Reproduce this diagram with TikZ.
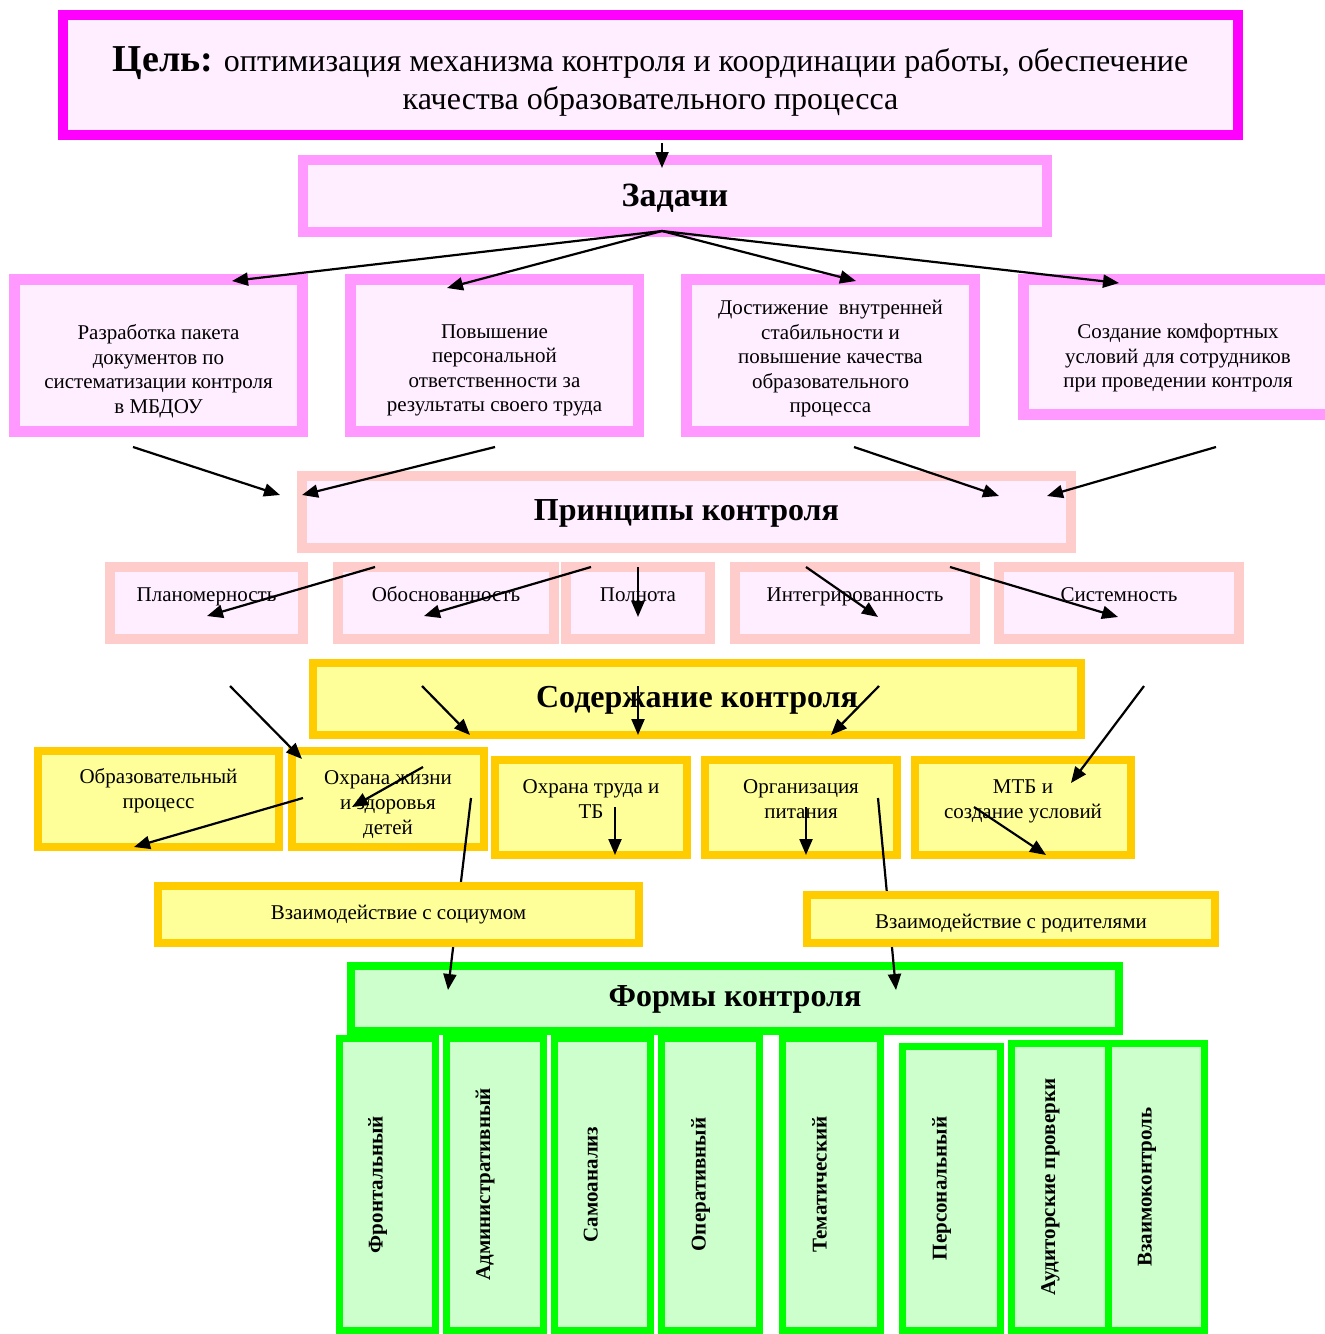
\documentclass[tikz,border=0pt]{standalone}
\usepackage{fontspec}
\setmainfont{Liberation Serif}
\usetikzlibrary{arrows.meta}

\definecolor{goalpink}{HTML}{FF00FF}
\definecolor{taskpink}{HTML}{FF99FF}
\definecolor{princpink}{HTML}{FFCCCC}
\definecolor{boxpink}{HTML}{FFEEFF}
\definecolor{contgold}{HTML}{FFCC00}
\definecolor{contyellow}{HTML}{FFFF99}
\definecolor{formgreen}{HTML}{00FF00}
\definecolor{formlight}{HTML}{CCFFCC}

% invisible struts to move the text inside a box
\newcommand{\padtop}[1]{\rule{0pt}{#1}}
\newcommand{\padbot}[1]{\rule[-#1]{0pt}{0pt}}

\begin{document}
\begin{tikzpicture}[x=1pt, y=-1pt,
  arr/.style={line width=2.2pt, -{Triangle[length=16pt, width=13pt]}},
  goalbox/.style={draw=goalpink, fill=boxpink, line width=10pt, inner sep=0pt, align=center, font=\fontsize{32}{38}\selectfont},
  headbox/.style={fill=boxpink, line width=10pt, inner sep=0pt, text height=22pt, text depth=6pt, font=\bfseries\fontsize{32}{38}\selectfont},
  taskbox/.style={draw=taskpink, fill=boxpink, line width=11pt, inner sep=0pt, align=center, font=\fontsize{21}{24.5}\selectfont},
  princbox/.style={draw=princpink, fill=boxpink, line width=10pt, inner sep=0pt, minimum height=72pt, text height=10pt, text depth=14pt, font=\fontsize{21}{24.5}\selectfont},
  contbox/.style={draw=contgold, fill=contyellow, line width=8pt, inner sep=0pt, align=center, font=\fontsize{21}{25}\selectfont},
  formbox/.style={draw=formgreen, fill=formlight, line width=7pt, inner sep=0pt, rotate=90, text height=15pt, text depth=25pt, font=\bfseries\fontsize{21}{24}\selectfont}]

    \path[use as bounding box, fill=white] (0,0) rectangle (1325,1334);

    % Goal
    \node[goalbox, minimum width=1175pt, minimum height=120pt] (goal) at (650.5,75)
        {\padtop{37.5pt}\textbf{\fontsize{38}{38}\selectfont Цель:} оптимизация механизма контроля и координации работы, обеспечение\\качества образовательного процесса};

    % Tasks
    \node[headbox, draw=taskpink, minimum width=744pt, minimum height=72pt, text height=24pt, text depth=4pt, font=\bfseries\fontsize{34}{38}\selectfont] (tasks) at (675,196) {Задачи};

    \node[taskbox, minimum width=288pt, minimum height=152pt] (t1) at (158.5,355.5) {\padtop{46.5pt}Разработка пакета\\документов по\\систематизации контроля\\в МБДОУ};
    \node[taskbox, minimum width=288pt, minimum height=152pt] (t2) at (494.5,355.5) {\padtop{44pt}Повышение\\персональной\\ответственности за\\результаты своего труда};
    \node[taskbox, minimum width=288pt, minimum height=152pt] (t3) at (830.5,355.5) {\padtop{20.5pt}Достижение \ внутренней\\стабильности и\\повышение качества\\образовательного\\процесса};
    \node[taskbox, minimum width=309pt, minimum height=135pt] (t4) at (1178,347) {\padtop{36.5pt}Создание комфортных\\условий для сотрудников\\при проведении контроля};

    % Principles
    \node[headbox, draw=princpink, minimum width=769pt, minimum height=72pt] (princ) at (686.5,512) {Принципы контроля};

    \node[princbox, minimum width=193pt] (p1) at (206.5,603) {Планомерность};
    \node[princbox, minimum width=216pt] (p2) at (446,603) {Обоснованность};
    \node[princbox, minimum width=144pt] (p3) at (638,603) {Полнота};
    \node[princbox, minimum width=240pt] (p4) at (855,603) {Интегрированность};
    \node[princbox, minimum width=240pt] (p5) at (1119,603) {Системность};

    % Content of control
    \node[headbox, draw=contgold, fill=contyellow, line width=8pt, minimum width=768pt, minimum height=72pt] (cont) at (697,699) {Содержание контроля};

    \node[contbox, minimum width=241pt, minimum height=96pt] (c1) at (158.5,799) {Образовательный\\процесс\padbot{20.6pt}};
    \node[contbox, minimum width=192pt, minimum height=96pt] (c2) at (388,799) {\padtop{26pt}Охрана жизни\\и здоровья\\детей};
    \node[contbox, minimum width=192pt, minimum height=95pt] (c3) at (591,807.5) {Охрана труда и\\ТБ\padbot{16pt}};
    \node[contbox, minimum width=192pt, minimum height=95pt] (c4) at (801,807.5) {Организация\\питания\padbot{16pt}};
    \node[contbox, minimum width=216pt, minimum height=95pt] (c5) at (1023,807.5) {МТБ и\\создание условий\padbot{16.6pt}};

    % Forms of control
    \node[headbox, draw=formgreen, fill=formlight, line width=8pt, minimum width=768pt, minimum height=65pt] (forms) at (735,998.5) {Формы контроля};

    \node[formbox, minimum width=292pt, minimum height=96pt] (f1) at (387.5,1184.5) {Фронтальный};
    \node[formbox, minimum width=292pt, minimum height=97pt] (f2) at (495,1184.5) {Административный};
    \node[formbox, minimum width=292pt, minimum height=96pt] (f3) at (602.5,1184.5) {Самоанализ};
    \node[formbox, minimum width=292pt, minimum height=98pt] (f4) at (710.5,1184.5) {Оперативный};
    \node[formbox, minimum width=292pt, minimum height=98pt] (f5) at (831.5,1184.5) {Тематический};
    \node[formbox, minimum width=284pt, minimum height=98pt] (f6) at (951.5,1188.5) {Персональный};
    \node[formbox, minimum width=287pt, minimum height=97pt] (f7) at (1060,1187) {Аудиторские проверки};
    \node[formbox, minimum width=287pt, minimum height=96pt] (f8) at (1156.5,1187) {Взаимоконтроль};

    % Long links, partly hidden behind the interaction boxes
    \coordinate (c2out) at (471,798);
    \coordinate (fin1) at (448,990);
    \coordinate (c4out) at (878,798);
    \coordinate (fin2) at (896,990);
    \draw[arr] (c2out) -- (fin1);
    \draw[arr] (c4out) -- (fin2);

    % Interaction boxes
    \node[contbox, minimum width=481pt, minimum height=57pt] (s1) at (398.5,914.5) {Взаимодействие с социумом};
    \node[contbox, minimum width=408pt, minimum height=48pt, text height=24pt] (s2) at (1011,919) {Взаимодействие с родителями};

    % Goal -> tasks
    \coordinate (g0) at (662,143);
    \coordinate (g1) at (662,168);
    \draw[arr] (g0) -- (g1);

    % Fan of tasks
    \coordinate (fan) at (662,231);
    \coordinate (t1in) at (232,281);
    \coordinate (t2in) at (447,288);
    \coordinate (t3in) at (856,281);
    \coordinate (t4in) at (1119,283);
    \draw[arr] (fan) -- (t1in);
    \draw[arr] (fan) -- (t2in);
    \draw[arr] (fan) -- (t3in);
    \draw[arr] (fan) -- (t4in);

    % Tasks -> principles
    \coordinate (t1out) at (133,447);
    \coordinate (t2out) at (495,447);
    \coordinate (t3out) at (854,447);
    \coordinate (t4out) at (1216,447);
    \coordinate (pr1) at (280,495);
    \coordinate (pr2) at (302,495);
    \coordinate (pr3) at (999,496);
    \coordinate (pr4) at (1047,496);
    \draw[arr] (t1out) -- (pr1);
    \draw[arr] (t2out) -- (pr2);
    \draw[arr] (t3out) -- (pr3);
    \draw[arr] (t4out) -- (pr4);

    % Principles row
    \coordinate (pa1) at (375,567);
    \coordinate (pb1) at (207,616);
    \coordinate (pa2) at (591,567);
    \coordinate (pb2) at (424,616);
    \coordinate (pa3) at (638,567);
    \coordinate (pb3) at (638,617);
    \coordinate (pa4) at (806,567);
    \coordinate (pb4) at (878,617);
    \coordinate (pa5) at (950,567);
    \coordinate (pb5) at (1118,617);
    \draw[arr] (pa1) -- (pb1);
    \draw[arr] (pa2) -- (pb2);
    \draw[arr] (pa3) -- (pb3);
    \draw[arr] (pa4) -- (pb4);
    \draw[arr] (pa5) -- (pb5);

    % Principles -> content
    \coordinate (ka1) at (230,686);
    \coordinate (kb1) at (302,759);
    \coordinate (ka2) at (422,686);
    \coordinate (kb2) at (470,735);
    \coordinate (ka3) at (638,686);
    \coordinate (kb3) at (638,735);
    \coordinate (ka4) at (879,686);
    \coordinate (kb4) at (831,735);
    \coordinate (ka5) at (1144,686);
    \coordinate (kb5) at (1071,783);
    \draw[arr] (ka1) -- (kb1);
    \draw[arr] (ka2) -- (kb2);
    \draw[arr] (ka3) -- (kb3);
    \draw[arr] (ka4) -- (kb4);
    \draw[arr] (ka5) -- (kb5);

    % Content row
    \coordinate (ca1) at (303,798);
    \coordinate (cb1) at (134,847);
    \coordinate (ca2) at (423,767);
    \coordinate (cb2) at (352,807);
    \coordinate (ca3) at (615,807);
    \coordinate (cb3) at (615,855);
    \coordinate (ca4) at (806,807);
    \coordinate (cb4) at (806,855);
    \coordinate (ca5) at (974,807);
    \coordinate (cb5) at (1046,855);
    \draw[arr] (ca1) -- (cb1);
    \draw[arr] (ca2) -- (cb2);
    \draw[arr] (ca3) -- (cb3);
    \draw[arr] (ca4) -- (cb4);
    \draw[arr] (ca5) -- (cb5);

\end{tikzpicture}
\end{document}
